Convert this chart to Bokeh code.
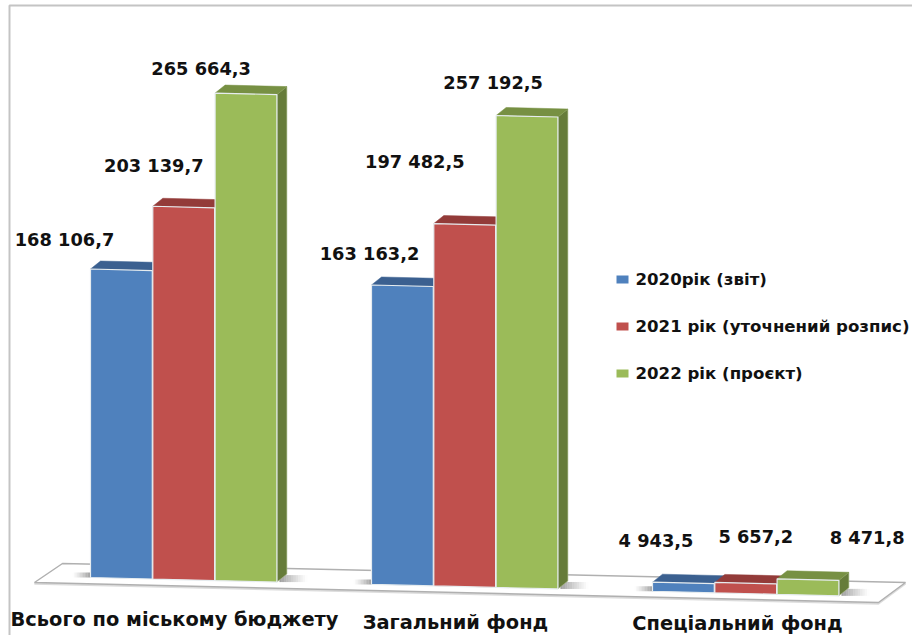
from bokeh.plotting import figure
from bokeh.models import Range1d
from bokeh.embed import file_html
from bokeh.resources import INLINE
from bokeh.core.properties import value

# ---- data ----
categories = ["Всього по міському бюджету", "Загальний фонд", "Спеціальний фонд"]
series_names = ["2020рік (звіт)", "2021 рік (уточнений розпис)", "2022 рік (проєкт)"]
v2020 = [168106.7, 163163.2, 4943.5]
v2021 = [203139.7, 197482.5, 5657.2]
v2022 = [265664.3, 257192.5, 8471.8]
labels2020 = ["168 106,7", "163 163,2", "4 943,5"]
labels2021 = ["203 139,7", "197 482,5", "5 657,2"]
labels2022 = ["265 664,3", "257 192,5", "8 471,8"]

# ---- style / layout ----
front = ["#4F81BD", "#C0504D", "#9BBB59"]
top = ["#3B6090", "#933B39", "#779043"]
side = ["#36577F", "#853533", "#667C3A"]
FONT = "DejaVu Sans"
W, H = 912, 635
K = 0.001835          # layout rows per unit of value
BASE = 577.0          # layout row of the first bar's foot
SLOPE = 0.0245        # floor perspective
GROUP_X = [90, 371, 652]
BAR_W = 62.3
DX, DY = 10, 8        # depth of the 3D box

def vy(py):           # layout row -> value-axis coordinate
    return (BASE - py) / K

def foot(x):          # layout row of the floor under column x
    return BASE + (x - GROUP_X[0]) * SLOPE

p = figure(width=W, height=H, output_backend="svg", toolbar_location=None,
           x_axis_type=None, y_axis_type=None, min_border=0,
           x_range=Range1d(0, W), y_range=Range1d(vy(H), vy(0)))
p.outline_line_color = None
p.grid.visible = False
p.background_fill_color = "white"
p.border_fill_color = "white"

# frame
p.line([9, 9, W], [vy(H), vy(5), vy(5)], line_color="#c4c4c4", line_width=2)

# floor
fx = [34, 62, 905, 878]
fy = [582, 563, 582, 602]
p.patch(fx, [vy(y + 1.5) for y in fy], fill_color="#dcdcdc", line_color="#dcdcdc", line_width=1.5)
p.patch(fx, [vy(y) for y in fy], fill_color="white", line_color="#b0b0b0", line_width=1.5)

# soft shadows on the floor
def shadow(x_from, x_to, y0, h):
    n = 12
    for i in range(n):
        a = x_from + (x_to - x_from) * i / n
        b = x_from + (x_to - x_from) * (i + 1) / n
        alpha = 0.62 * (1 - (i + 0.5) / n) ** 1.2
        p.patch([a, b, b, a], [vy(y0), vy(y0), vy(y0 + h), vy(y0 + h)],
                fill_color="#606060", fill_alpha=alpha, line_color=None)

for gx in GROUP_X:
    right = gx + 3 * BAR_W
    shadow(gx, gx - 18, foot(gx) - 5, 5)
    shadow(right + 2, right + 30, foot(right) - 7, 7)

# bars
series = [v2020, v2021, v2022]
for g, gx in enumerate(GROUP_X):
    for s in range(3):
        val = series[s][g]
        x0 = gx + s * BAR_W
        x1 = x0 + BAR_W - 0.5
        b0 = vy(foot(x0))
        b1 = vy(foot(x1))
        t0 = b0 + val
        t1 = b1 + val
        d = DY / K
        if s == 2:
            p.patch([x1, x1 + DX, x1 + DX, x1], [t1, t1 + d, b1 + d, b1],
                    fill_color=side[s], line_color="#A9B98A", line_width=0.6)
        p.patch([x0, x0 + DX, x1 + DX, x1], [t0, t0 + d, t1 + d, t1],
                fill_color=top[s], line_color=top[s], line_width=0.5)
        p.patch([x0, x1, x1, x0], [b0, b1, t1, t0],
                fill_color=front[s], line_color="#E6ECEF", line_width=1.2)

# value labels: centre offset from the bar's top-left corner, in layout units
lab_dx = [[-26, -2, 3.5], [1, -19, 41], [-14, -3, 90]]   # per series, per group
lab_dy = [[30, 31, 42], [41, 62, 46], [25, 33, 41]]
labels = [labels2020, labels2021, labels2022]
for s in range(3):
    for g, gx in enumerate(GROUP_X):
        x0 = gx + s * BAR_W
        yy = foot(x0) - series[s][g] * K - lab_dy[s][g]
        p.text([x0 + lab_dx[s][g]], [vy(yy)], text=[labels[s][g]],
               text_font=value(FONT), text_font_size="17.8px", text_font_style="bold",
               text_color="#111111", text_align="center", text_baseline="middle")

# category labels
cat_x = [174, 455, 737]
cat_y = [619, 622, 623]
for c, x, y in zip(categories, cat_x, cat_y):
    p.text([x], [vy(y)], text=[c], text_font=value(FONT), text_font_size="19.4px",
           text_font_style="bold", text_color="#111111", text_align="center", text_baseline="middle")

# legend
leg_y = [279, 326, 373]
for s, y in enumerate(leg_y):
    p.quad(left=[616], right=[628], top=[vy(y - 4)], bottom=[vy(y + 4)],
           fill_color=front[s], line_color=None)
    p.text([635], [vy(y)], text=[series_names[s]], text_font=value(FONT), text_font_size="16.6px",
           text_font_style="bold", text_color="#111111", text_align="left", text_baseline="middle")

open("out.html", "w").write(file_html(p, INLINE))
